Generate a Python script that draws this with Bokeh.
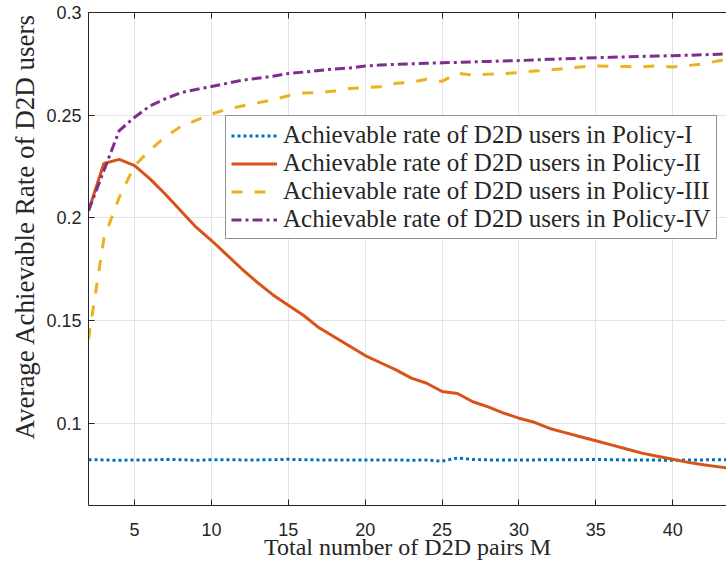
from bokeh.plotting import figure
from bokeh.models import LinearAxis, FixedTicker, Legend, LegendItem, Range1d, Title
from bokeh.embed import file_html
from bokeh.resources import INLINE

M = list(range(2, 45))

policy_1 = [0.0823, 0.0822, 0.0820, 0.0822, 0.0822, 0.0824, 0.0823, 0.0820, 0.0823, 0.0823,
            0.0822, 0.0822, 0.0823, 0.0825, 0.0823, 0.0822, 0.0822, 0.0821, 0.0821, 0.0822,
            0.0822, 0.0820, 0.0822, 0.0816, 0.0831, 0.0824, 0.0822, 0.0822, 0.0821, 0.0822,
            0.0823, 0.0823, 0.0823, 0.0824, 0.0823, 0.0822, 0.0822, 0.0821, 0.0820, 0.0822,
            0.0822, 0.0823, 0.0823]
policy_2 = [0.2035, 0.2265, 0.2285, 0.2255, 0.2190, 0.2115, 0.2035, 0.1955, 0.1890, 0.1820,
            0.1750, 0.1685, 0.1625, 0.1575, 0.1525, 0.1465, 0.1420, 0.1375, 0.1330, 0.1295,
            0.1260, 0.1220, 0.1195, 0.1155, 0.1145, 0.1105, 0.1080, 0.1050, 0.1025, 0.1005,
            0.0975, 0.0955, 0.0935, 0.0915, 0.0895, 0.0875, 0.0855, 0.0840, 0.0825, 0.0810,
            0.0798, 0.0788, 0.0778]
policy_3 = [0.1410, 0.1900, 0.2100, 0.2255, 0.2330, 0.2395, 0.2445, 0.2475, 0.2505, 0.2530,
            0.2545, 0.2560, 0.2575, 0.2595, 0.2608, 0.2610, 0.2618, 0.2630, 0.2635, 0.2638,
            0.2655, 0.2660, 0.2675, 0.2665, 0.2705, 0.2695, 0.2700, 0.2702, 0.2708, 0.2715,
            0.2720, 0.2728, 0.2735, 0.2740, 0.2738, 0.2737, 0.2735, 0.2740, 0.2735, 0.2742,
            0.2750, 0.2765, 0.2780]
policy_4 = [0.2035, 0.2230, 0.2425, 0.2490, 0.2545, 0.2580, 0.2610, 0.2625, 0.2640, 0.2655,
            0.2670, 0.2680, 0.2690, 0.2703, 0.2710, 0.2718, 0.2725, 0.2730, 0.2740, 0.2744,
            0.2748, 0.2750, 0.2753, 0.2755, 0.2757, 0.2760, 0.2762, 0.2764, 0.2766, 0.2769,
            0.2772, 0.2775, 0.2777, 0.2780, 0.2782, 0.2784, 0.2786, 0.2788, 0.2790, 0.2792,
            0.2794, 0.2797, 0.2799]

labels = ["Achievable rate of D2D users in Policy-I",
          "Achievable rate of D2D users in Policy-II",
          "Achievable rate of D2D users in Policy-III",
          "Achievable rate of D2D users in Policy-IV"]
x_ticks = [5, 10, 15, 20, 25, 30, 35, 40]
y_ticks = [0.1, 0.15, 0.2, 0.25, 0.3]
y_tick_labels = ["0.1", "0.15", "0.2", "0.25", "0.3"]
x_label = "Total number of D2D pairs M"
y_label = "Average Achievable Rate of D2D users"

AX = "#262626"
SERIF = "Liberation Serif"
SANS = "Liberation Sans"

p = figure(width=726, height=562, output_backend="svg", toolbar_location=None,
           x_range=Range1d(2, 43.5), y_range=Range1d(0.06, 0.3),
           min_border_left=88, min_border_right=0, min_border_top=12, min_border_bottom=57,
           x_axis_label=x_label)
p.outline_line_color = None
p.background_fill_color = "white"
p.border_fill_color = "white"

p.xaxis.ticker = FixedTicker(ticks=x_ticks)
p.yaxis.ticker = FixedTicker(ticks=y_ticks)
p.yaxis.major_label_overrides = {t: s for t, s in zip(y_ticks, y_tick_labels)}

for ax in (p.xaxis[0], p.yaxis[0]):
    ax.axis_line_color = AX
    ax.major_tick_line_color = AX
    ax.major_tick_in = 6
    ax.major_tick_out = 0
    ax.minor_tick_line_color = None
    ax.major_label_text_font = SANS
    ax.major_label_text_font_size = "18px"
    ax.major_label_text_color = AX
    ax.axis_label_text_font = SERIF
    ax.axis_label_text_font_style = "normal"
    ax.axis_label_text_font_size = "24px"
    ax.axis_label_text_color = AX
p.xaxis.major_label_standoff = 17
p.xaxis.axis_label_standoff = -5
p.yaxis.major_label_standoff = 7

ytitle = Title(text=y_label, align="right", offset=1, standoff=8,
               text_font=SERIF, text_font_size="27px", text_font_style="normal",
               text_color=AX)
p.add_layout(ytitle, "left")

top = LinearAxis(ticker=FixedTicker(ticks=x_ticks), major_tick_in=6, major_tick_out=0,
                 minor_tick_line_color=None,
                 major_label_overrides={t: "" for t in x_ticks},
                 major_label_standoff=0,
                 axis_line_color=AX, major_tick_line_color=AX)
p.add_layout(top, "above")

p.xgrid.grid_line_color = "#e3e3e3"
p.ygrid.grid_line_color = "#e3e3e3"
p.xgrid.ticker = FixedTicker(ticks=x_ticks)
p.ygrid.ticker = FixedTicker(ticks=y_ticks)

r1 = p.line(M, policy_1, line_color="#0072BD", line_width=3, line_dash="3 3")
r2 = p.line(M, policy_2, line_color="#D95319", line_width=3)
r3 = p.line(M, policy_3, line_color="#EDB120", line_width=3, line_dash="11 12")
r4 = p.line(M, policy_4, line_color="#7E2F8E", line_width=3, line_dash="10 4 3 4")

legend = Legend(items=[LegendItem(label=l, renderers=[r]) for l, r in zip(labels, [r1, r2, r3, r4])],
                location=(137, 266), orientation="vertical")
legend.label_text_font = SERIF
legend.label_text_font_size = "25px"
legend.label_text_color = AX
legend.glyph_width = 46
legend.glyph_height = 27
legend.label_height = 27
legend.label_standoff = 6
legend.spacing = 0
legend.padding = 5
legend.margin = 0
legend.border_line_color = AX
legend.border_line_width = 1
legend.background_fill_color = "white"
legend.background_fill_alpha = 1
p.add_layout(legend, "center")

open("out.html", "w").write(file_html(p, INLINE))
